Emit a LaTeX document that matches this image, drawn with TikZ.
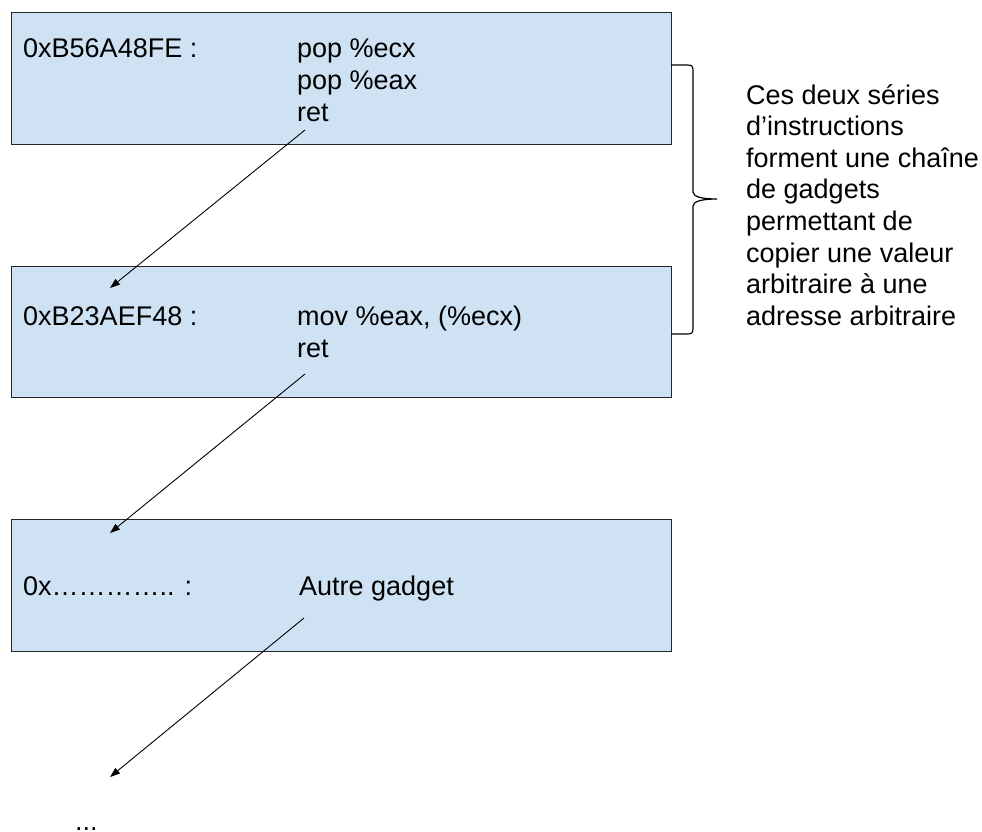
\documentclass[tikz,border=0pt]{standalone}
\usepackage{fontspec}
\setmainfont{Liberation Sans}
\usetikzlibrary{arrows.meta}
\definecolor{boxfill}{HTML}{CFE2F3}
\begin{document}
\begin{tikzpicture}[x=1pt,y=-1pt,
  gbox/.style={draw=black!85, line width=1.3pt, fill=boxfill, minimum width=660pt, minimum height=132pt, inner sep=0pt, anchor=north west},
  txt/.style={anchor=base west, inner sep=0pt, font=\fontsize{27}{32}\selectfont},
  arr/.style={-{Triangle[length=10pt,width=7pt]}, line width=0.9pt},
  bracestyle/.style={line width=1.2pt}]
\useasboundingbox (0,0) rectangle (982,831);
% boxes
\node[gbox] (b1) at (11,12) {};
\node[gbox, minimum height=131pt] (b2) at (11,266) {};
\node[gbox] (b3) at (11,519) {};
% box texts
\node[txt] (a1) at (23,57) {0xB56A48FE :};
\node[txt] (i1a) at (297,57) {pop \%ecx};
\node[txt] (i1b) at (297,89) {pop \%eax};
\node[txt] (i1c) at (297,121) {ret};
\node[txt] (a2) at (23,325) {0xB23AEF48 :};
\node[txt] (i2a) at (297,325) {mov \%eax, (\%ecx)};
\node[txt] (i2b) at (297,357) {ret};
\node[txt] (a3) at (23,595) {0x………….. :};
\node[txt] (i3) at (299,595) {Autre gadget};
\node[txt] (dots) at (75,830) {...};
% arrows
\coordinate (s1) at (305,130); \coordinate (t1) at (110,288);
\coordinate (s2) at (305,374); \coordinate (t2) at (110,533);
\coordinate (s3) at (304,618); \coordinate (t3) at (110,777);
\draw[arr] (s1) -- (t1);
\draw[arr] (s2) -- (t2);
\draw[arr] (s3) -- (t3);
% brace
\coordinate (bt) at (671,65);
\coordinate (bb) at (671,334);
\coordinate (bm) at (717,199);
\draw[bracestyle] (bt) -- (687,65) .. controls (692,65) and (693,66) .. (693,71) -- (693,192)
  .. controls (693,197) and (703,199) .. (bm)
  .. controls (703,199) and (693,201) .. (693,206) -- (693,328)
  .. controls (693,333) and (692,334) .. (687,334) -- (bb);
% right text
\node[txt] (r1) at (746,104) {Ces deux séries};
\node[txt] (r2) at (746,135.6) {d’instructions};
\node[txt] (r3) at (746,167.2) {forment une chaîne};
\node[txt] (r4) at (746,198.8) {de gadgets};
\node[txt] (r5) at (746,230.4) {permettant de};
\node[txt] (r6) at (746,262) {copier une valeur};
\node[txt] (r7) at (746,293.6) {arbitraire à une};
\node[txt] (r8) at (746,325.2) {adresse arbitraire};
\end{tikzpicture}
\end{document}
